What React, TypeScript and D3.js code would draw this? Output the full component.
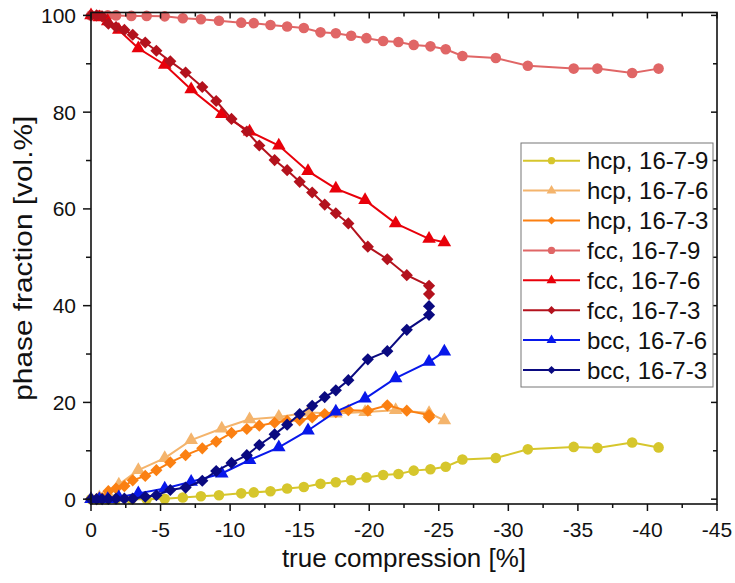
import { useEffect, useRef } from 'react';
import * as d3 from 'd3';

// compression steps per alloy (true compression, %)
const x1679 = [0, -0.6, -1.2, -1.8, -2.9, -4.0, -5.3, -6.6, -7.9, -9.2, -10.8, -11.7, -12.9, -14.1, -15.3, -16.5, -17.6, -18.7, -19.8, -21.0, -22.1, -23.2, -24.4, -25.5, -26.7, -29.1, -31.4, -34.7, -36.4, -38.9, -40.8];
const x1676 = [0, -0.6, -1.2, -2.0, -3.4, -5.3, -7.2, -9.4, -11.4, -13.5, -15.6, -17.6, -19.7, -21.9, -24.3, -25.4];
const x1673 = [0, -0.4, -0.8, -1.25, -1.8, -2.4, -3.0, -3.9, -4.7, -5.7, -6.8, -8.0, -9.0, -10.1, -11.2, -12.1, -13.2, -14.1, -15.0, -15.9, -16.8, -17.6, -18.5, -19.9, -21.3, -22.7, -24.3, -24.3];

// phase fractions (vol.%)
const hcp1679 = [0, 0, 0, 0, 0, 0, 0.1, 0.35, 0.6, 0.8, 1.2, 1.4, 1.65, 2.2, 2.5, 3.2, 3.5, 3.9, 4.5, 5.0, 5.2, 5.9, 6.2, 6.7, 8.2, 8.5, 10.3, 10.8, 10.6, 11.7, 10.7];
const hcp1676 = [0, 0.4, 1.2, 3.0, 6.0, 8.5, 12.2, 14.6, 16.5, 17.0, 17.9, 17.7, 18.0, 18.4, 17.8, 16.3];
const hcp1673 = [0, 0, 0.2, 1.65, 2.2, 2.7, 3.9, 4.8, 6.0, 7.6, 9.1, 10.5, 11.9, 13.7, 14.5, 15.2, 15.8, 16.2, 16.3, 16.9, 17.6, 18.0, 18.4, 18.3, 19.4, 18.3, 17.4, 16.9];
const fcc1679 = [100, 100, 100, 100, 99.9, 99.9, 99.8, 99.4, 99.2, 98.9, 98.5, 98.4, 98.0, 97.7, 97.4, 96.5, 96.3, 95.8, 95.3, 94.7, 94.5, 93.9, 93.6, 93.0, 91.6, 91.2, 89.6, 89.0, 89.0, 88.1, 89.0];
const fcc1676 = [100, 99.6, 98.8, 97.0, 93.2, 89.8, 84.7, 79.6, 76.0, 73.1, 67.8, 64.2, 61.8, 57.0, 53.8, 53.1];
const fcc1673 = [100, 100, 99.8, 98.3, 97.6, 97.0, 96.0, 94.4, 92.7, 90.5, 88.2, 85.2, 82.3, 78.6, 76.0, 73.1, 70.1, 68.0, 65.6, 63.4, 60.9, 59.1, 57.0, 52.2, 49.6, 46.3, 44.1, 42.4];
const bcc1676 = [0, 0, 0, 0.4, 1.2, 2.2, 3.6, 5.3, 8.1, 10.7, 14.2, 18.1, 20.8, 25.0, 28.4, 30.5];
const bcc1673 = [0, 0, 0, 0.05, 0.1, 0.1, 0.1, 0.5, 0.8, 1.9, 2.4, 3.8, 5.8, 7.5, 9.1, 11.2, 13.4, 15.4, 17.6, 19.3, 21.1, 22.5, 24.6, 28.9, 30.6, 35.0, 38.1, 39.9];

const xTicks = [0, -5, -10, -15, -20, -25, -30, -35, -40, -45];
const yTicks = [0, 20, 40, 60, 80, 100];

type Marker = 'circle' | 'triangle' | 'diamond';

const series: { label: string; xs: number[]; ys: number[]; color: string; marker: Marker }[] = [
  { label: 'hcp, 16-7-9', xs: x1679, ys: hcp1679, color: '#d6c62c', marker: 'circle' },
  { label: 'hcp, 16-7-6', xs: x1676, ys: hcp1676, color: '#f4b46c', marker: 'triangle' },
  { label: 'hcp, 16-7-3', xs: x1673, ys: hcp1673, color: '#fb8012', marker: 'diamond' },
  { label: 'fcc, 16-7-9', xs: x1679, ys: fcc1679, color: '#e06666', marker: 'circle' },
  { label: 'fcc, 16-7-6', xs: x1676, ys: fcc1676, color: '#e8000a', marker: 'triangle' },
  { label: 'fcc, 16-7-3', xs: x1673, ys: fcc1673, color: '#b3121d', marker: 'diamond' },
  { label: 'bcc, 16-7-6', xs: x1676, ys: bcc1676, color: '#0818ea', marker: 'triangle' },
  { label: 'bcc, 16-7-3', xs: x1673, ys: bcc1673, color: '#0a0a80', marker: 'diamond' },
];

function symbolPath(marker: Marker, big: boolean) {
  if (marker === 'circle') return d3.symbol(d3.symbolCircle, big ? 88 : 42)()!;
  if (marker === 'triangle') return d3.symbol(d3.symbolTriangle, big ? 80 : 42)()!;
  return d3.symbol(d3.symbolSquare, big ? 74 : 34)()!;
}

export default function App() {
  const svgRef = useRef<SVGSVGElement>(null);

  useEffect(() => {
    if (!svgRef.current) return;
    const svg = d3.select(svgRef.current);
    svg.selectAll('*').remove();

    const font = 'Liberation Sans, Arial, sans-serif';
    const left = 91, right = 717, top = 12.5, bottom = 504;

    const xScale = d3.scaleLinear().domain([0, -45]).range([left, right]);
    const yScale = d3.scaleLinear().domain([-1, 100.6]).range([bottom, top]);

    const g = svg.append('g');

    // series lines + markers
    series.forEach(s => {
      const pts = s.xs.map((x, i) => [x, s.ys[i]] as [number, number]);
      const line = d3.line<[number, number]>()
        .x(d => xScale(d[0]))
        .y(d => yScale(d[1]));
      g.append('path')
        .datum(pts)
        .attr('d', line)
        .attr('fill', 'none')
        .attr('stroke', s.color)
        .attr('stroke-width', 2);
      g.selectAll(null)
        .data(pts)
        .enter()
        .append('path')
        .attr('d', symbolPath(s.marker, true))
        .attr('transform', d => `translate(${xScale(d[0])},${yScale(d[1])})${s.marker === 'diamond' ? ' rotate(45)' : ''}`)
        .attr('fill', s.color);
    });

    // frame
    g.append('rect')
      .attr('x', left)
      .attr('y', top)
      .attr('width', right - left)
      .attr('height', bottom - top)
      .attr('fill', 'none')
      .attr('stroke', '#111')
      .attr('stroke-width', 1.6);

    // x ticks (major + minor), outward bottom, inward top
    d3.range(0, -45.1, -2.5).forEach(v => {
      const major = v % 5 === 0;
      const px = xScale(v);
      g.append('line').attr('x1', px).attr('x2', px).attr('y1', bottom).attr('y2', bottom + (major ? 7 : 4))
        .attr('stroke', '#111').attr('stroke-width', 1.5);
      g.append('line').attr('x1', px).attr('x2', px).attr('y1', top).attr('y2', top + (major ? 6 : 4))
        .attr('stroke', '#111').attr('stroke-width', 1.5);
    });
    xTicks.forEach(v => {
      g.append('text')
        .attr('x', xScale(v))
        .attr('y', 537)
        .attr('text-anchor', 'middle')
        .style('font-family', font)
        .style('font-size', '21px')
        .attr('fill', '#111')
        .text(v === 0 ? '0' : `${v}`);
    });

    // y ticks
    d3.range(0, 100.1, 10).forEach(v => {
      const major = v % 20 === 0;
      const py = yScale(v);
      g.append('line').attr('x1', left - (major ? 8 : 5)).attr('x2', left).attr('y1', py).attr('y2', py)
        .attr('stroke', '#111').attr('stroke-width', 1.5);
      g.append('line').attr('x1', right - (major ? 6 : 4)).attr('x2', right).attr('y1', py).attr('y2', py)
        .attr('stroke', '#111').attr('stroke-width', 1.5);
    });
    yTicks.forEach(v => {
      g.append('text')
        .attr('x', 76)
        .attr('y', yScale(v))
        .attr('dy', '0.36em')
        .attr('text-anchor', 'end')
        .style('font-family', font)
        .style('font-size', '21px')
        .attr('fill', '#111')
        .text(`${v}`);
    });

    // axis titles
    g.append('text')
      .attr('x', (left + right) / 2)
      .attr('y', 567)
      .attr('text-anchor', 'middle')
      .style('font-family', font)
      .style('font-size', '26px')
      .attr('fill', '#111')
      .text('true compression [%]');

    g.append('text')
      .attr('transform', `translate(32,${(top + bottom) / 2}) rotate(-90)`)
      .attr('text-anchor', 'middle')
      .attr('textLength', 285)
      .attr('lengthAdjust', 'spacingAndGlyphs')
      .style('font-family', font)
      .style('font-size', '26px')
      .attr('fill', '#111')
      .text('phase fraction [vol.%]');

    // legend
    const legend = g.append('g');
    legend.append('rect')
      .attr('x', 521)
      .attr('y', 143)
      .attr('width', 192)
      .attr('height', 244)
      .attr('fill', '#fff')
      .attr('stroke', '#777')
      .attr('stroke-width', 1);

    series.forEach((s, i) => {
      const row = legend.append('g').attr('transform', `translate(523,${160.7 + i * 29.9})`);
      row.append('line')
        .attr('x1', 0).attr('x2', 57).attr('y1', 0).attr('y2', 0)
        .attr('stroke', s.color).attr('stroke-width', 2);
      row.append('path')
        .attr('d', symbolPath(s.marker, false))
        .attr('transform', `translate(28.5,0)${s.marker === 'diamond' ? ' rotate(45)' : ''}`)
        .attr('fill', s.color);
      row.append('text')
        .attr('x', 64)
        .attr('dy', '0.36em')
        .style('font-family', font)
        .style('font-size', '24px')
        .attr('fill', '#111')
        .text(s.label);
    });
  }, []);

  return (
    <svg
      ref={svgRef}
      width={735}
      height={583}
      style={{ position: 'absolute', left: 0, top: 0, background: '#fff' }}
    />
  );
}
